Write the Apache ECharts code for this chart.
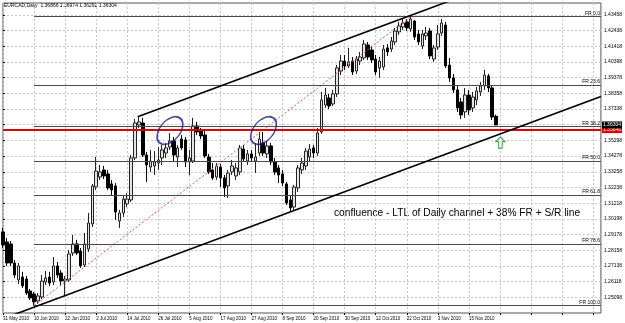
<!DOCTYPE html>
<html>
<head>
<meta charset="utf-8">
<title>EURCAD,Daily</title>
<style>
  html, body { margin: 0; padding: 0; background: #fff; }
  #chart { width: 625px; height: 323px; }
</style>
<script src="https://cdn.jsdelivr.net/npm/echarts@6.0.0/dist/echarts.min.js"></script>
</head>
<body>
<div id="chart"></div>
<script>
// daily bars, 31 May 2010 .. 25 Nov 2010
var opens = [
  1.2935,1.2870,1.2857,1.2733,1.2623,1.2642,1.2629,1.2551,1.2532,1.2486,
  1.2512,1.2610,1.2642,1.2610,1.2714,1.2668,1.2616,1.2623,1.2798,1.2857,
  1.2811,1.2720,1.2824,1.2987,1.3227,1.3292,1.3338,1.3312,1.3247,1.3234,
  1.3006,1.3058,1.3117,1.3143,1.3416,1.3630,1.3643,1.3435,1.3357,1.3364,
  1.3383,1.3416,1.3448,1.3487,1.3526,1.3422,1.3539,1.3533,1.3390,1.3396,
  1.3624,1.3591,1.3565,1.3422,1.3338,1.3292,1.3357,1.3286,1.3234,1.3325,
  1.3299,1.3325,1.3474,1.3396,1.3442,1.3396,1.3448,1.3513,1.3442,1.3494,
  1.3390,1.3351,1.3312,1.3247,1.3143,1.3097,1.3221,1.3338,1.3364,1.3422,
  1.3481,1.3448,1.3585,1.3760,1.3806,1.3767,1.3832,1.3981,1.4046,1.4014,
  1.4046,1.3981,1.4046,1.4066,1.4150,1.4118,1.4059,1.4001,1.4007,1.4131,
  1.4124,1.4170,1.4235,1.4267,1.4300,1.4254,1.4306,1.4222,1.4144,1.4209,
  1.4241,1.4059,1.4137,1.4228,1.4280,1.4020,1.3936,1.3858,1.3780,1.3715,
  1.3825,1.3741,1.3793,1.3845,1.3884,1.3949,1.3871,1.36866
];
var closes = [
  1.2850,1.2733,1.2733,1.2655,1.2714,1.2584,1.2538,1.2506,1.2480,1.2519,
  1.2616,1.2636,1.2603,1.2714,1.2655,1.2616,1.2629,1.2792,1.2857,1.2798,
  1.2714,1.2857,1.2993,1.3234,1.3331,1.3325,1.3299,1.3221,1.3208,1.3065,
  1.3058,1.3149,1.3149,1.3416,1.3643,1.3650,1.3435,1.3370,1.3396,1.3390,
  1.3403,1.3468,1.3481,1.3526,1.3435,1.3481,1.3481,1.3390,1.3416,1.3624,
  1.3585,1.3559,1.3429,1.3325,1.3286,1.3364,1.3286,1.3221,1.3318,1.3364,
  1.3351,1.3481,1.3409,1.3442,1.3416,1.3422,1.3539,1.3448,1.3494,1.3390,
  1.3325,1.3305,1.3253,1.3123,1.3091,1.3227,1.3351,1.3383,1.3461,1.3474,
  1.3448,1.3578,1.3793,1.3825,1.3754,1.3832,1.4001,1.4046,1.4014,1.4040,
  1.3975,1.4059,1.4072,1.4157,1.4072,1.4053,1.3975,1.4046,1.4124,1.4105,
  1.4176,1.4241,1.4274,1.4293,1.4261,1.4319,1.4202,1.4170,1.4222,1.4228,
  1.4079,1.4131,1.4222,1.4293,1.4014,1.3936,1.3858,1.3741,1.3695,1.3825,
  1.3728,1.3812,1.3851,1.3884,1.3955,1.3871,1.3682,1.36304
];
var lows = [
  1.2831,1.2714,1.2714,1.2636,1.2597,1.2571,1.2525,1.2493,1.2456,1.2467,
  1.2499,1.2590,1.2584,1.2590,1.2636,1.2590,1.2525,1.2610,1.2779,1.2785,
  1.2701,1.2707,1.2805,1.2967,1.3208,1.3273,1.3279,1.3208,1.3175,1.3013,
  1.2961,1.3032,1.3097,1.3130,1.3403,1.3611,1.3422,1.3260,1.3325,1.3305,
  1.3338,1.3370,1.3416,1.3468,1.3390,1.3357,1.3468,1.3357,1.3305,1.3383,
  1.3565,1.3539,1.3416,1.3312,1.3273,1.3273,1.3227,1.3162,1.3156,1.3305,
  1.3273,1.3305,1.3390,1.3370,1.3390,1.3318,1.3429,1.3429,1.3416,1.3370,
  1.3305,1.3253,1.3234,1.3110,1.3065,1.3071,1.3195,1.3312,1.3338,1.3396,
  1.3416,1.3429,1.3572,1.3741,1.3734,1.3754,1.3812,1.3955,1.3988,1.4001,
  1.3955,1.3962,1.4020,1.4053,1.4053,1.4033,1.3955,1.3936,1.3988,1.4079,
  1.4105,1.4150,1.4215,1.4248,1.4241,1.4235,1.4183,1.4150,1.4124,1.4183,
  1.4059,1.4040,1.4118,1.4209,1.4001,1.3910,1.3838,1.3715,1.3669,1.3676,
  1.3695,1.3715,1.3760,1.3819,1.3858,1.3845,1.3663,1.36292
];
var highs = [
  1.2961,1.2896,1.2876,1.2753,1.2733,1.2675,1.2649,1.2564,1.2545,1.2538,
  1.2655,1.2681,1.2675,1.2772,1.2740,1.2688,1.2649,1.2818,1.2915,1.2883,
  1.2831,1.2928,1.3058,1.3247,1.3422,1.3370,1.3364,1.3338,1.3273,1.3253,
  1.3078,1.3175,1.3188,1.3435,1.3669,1.3689,1.3676,1.3455,1.3468,1.3461,
  1.3487,1.3500,1.3513,1.3578,1.3552,1.3500,1.3565,1.3552,1.3468,1.3676,
  1.3650,1.3611,1.3598,1.3442,1.3383,1.3383,1.3377,1.3305,1.3338,1.3403,
  1.3383,1.3500,1.3500,1.3468,1.3468,1.3513,1.3585,1.3585,1.3526,1.3513,
  1.3416,1.3370,1.3338,1.3260,1.3175,1.3240,1.3370,1.3416,1.3481,1.3507,
  1.3500,1.3611,1.3845,1.3871,1.3832,1.3858,1.4020,1.4085,1.4085,1.4131,
  1.4072,1.4079,1.4105,1.4183,1.4170,1.4144,1.4085,1.4072,1.4150,1.4157,
  1.4202,1.4261,1.4300,1.4319,1.4319,1.4334,1.4313,1.4248,1.4248,1.4267,
  1.4261,1.4150,1.4280,1.4319,1.4300,1.4066,1.3962,1.3884,1.3806,1.3871,
  1.3858,1.3845,1.3877,1.3910,1.3988,1.3962,1.3890,1.36974
];

// bottom labels, one every 8 bars
var dateLabels = [
  '31 May 2010','10 Jun 2010','22 Jun 2010','2 Jul 2010','14 Jul 2010','26 Jul 2010',
  '5 Aug 2010','17 Aug 2010','27 Aug 2010','8 Sep 2010','20 Sep 2010','30 Sep 2010',
  '12 Oct 2010','22 Oct 2010','3 Nov 2010','15 Nov 2010'
];
// price scale on the right
var priceTicks = [
  1.24078,1.25098,1.26118,1.27138,1.28158,1.29178,1.30198,1.31218,1.32238,1.33258,
  1.34278,1.35298,1.36318,1.37338,1.38358,1.39378,1.40398,1.41418,1.42438,1.43458
];

// fibo retracement (low 10 Jun -> high 20 Oct)
var fibNames = ['FR 0.0','FR 23.6','FR 38.2','FR 50.0','FR 61.8','FR 78.6','FR 100.0'];
var fibPrices = [1.43340,1.38900,1.36190,1.33960,1.31750,1.28565,1.24555];
var fibTrend = [[8, 1.24555], [105, 1.43340]];

// channel lines: [bar index, price]
var channelLower = [[0, 1.2371], [154, 1.3815]];
var channelUpper = [[34.7, 1.3684], [120, 1.4483]];

var srLevel = 1.35846;
var lastPrice = 1.36304;
var circles = [[43.0, 1.3594], [67.1, 1.3594]];
var arrowAt = [[128.1, 1.3516]];

(function() {
  var myChart = echarts.init(document.getElementById('chart'));
  var slots = 155;
  var cats = [];
  for (var i = 0; i < slots; i++) cats.push(i);

  var candles = opens.map(function(o, i) {
    return [o, closes[i], lows[i], highs[i]];
  });

  var gridTicks = [];
  for (var k = 0; k < slots; k += 8) gridTicks.push(k);
  var labelTicks = dateLabels.map(function(d, k) { return k * 8; });
  var priceLabels = priceTicks.filter(function(p) { return Math.abs(p - lastPrice) > 0.002; });

  var dotted = { color: '#c6c6d6', width: 1, type: [2, 2] };
  var tiny = 'Liberation Sans';

  var option = {
    animation: false,
    backgroundColor: '#fff',
    grid: {
      left: 3, right: 22, top: 3, bottom: 10,
      show: true, borderColor: '#555', borderWidth: 1, backgroundColor: '#fff'
    },
    xAxis: [{
      type: 'category',
      data: cats,
      boundaryGap: false,
      position: 'top',
      show: false
    }, {
      type: 'value',
      min: 0, max: slots - 1,
      position: 'bottom',
      axisLine: { show: false },
      axisTick: { show: true, length: 2, customValues: gridTicks, lineStyle: { color: '#000' } },
      splitLine: { show: true, lineStyle: dotted },
      axisLabel: {
        customValues: labelTicks,
        fontSize: 4.5, fontFamily: tiny, color: '#000', align: 'left', margin: 3,
        formatter: function(v) { return dateLabels[Math.round(v / 8)] || ''; }
      }
    }],
    yAxis: {
      type: 'value',
      position: 'right',
      min: 1.2408, max: 1.4423,
      axisLine: { show: false },
      axisTick: { show: true, length: 2, customValues: priceTicks, lineStyle: { color: '#000' } },
      splitLine: { show: true, lineStyle: dotted },
      axisLabel: {
        customValues: priceLabels,
        fontSize: 5, fontFamily: tiny, color: '#000', margin: 3,
        formatter: function(v) { return v.toFixed(5); }
      }
    },
    series: [{
      name: 'EURCAD',
      type: 'candlestick',
      xAxisIndex: 0,
      data: candles,
      barWidth: 3,
      clip: true,
      z: 3,
      itemStyle: {
        color: '#e4e4e4', color0: '#000',
        borderColor: '#222', borderColor0: '#000', borderWidth: 1
      },
      markLine: {
        symbol: 'none', silent: true, animation: false,
        data: [{
          yAxis: srLevel,
          lineStyle: { color: '#e00000', width: 2, type: 'solid' },
          label: {
            position: 'end', distance: 1, fontSize: 5, fontFamily: tiny, color: '#fff',
            backgroundColor: '#e00000', padding: [1, 1],
            formatter: function() { return srLevel.toFixed(5); }
          }
        }]
      }
    }, {
      // bid price tag on the right scale
      name: 'bid',
      type: 'line',
      xAxisIndex: 1,
      data: [[0, lastPrice], [slots - 1, lastPrice]],
      symbol: 'none',
      z: 6,
      lineStyle: { width: 0, color: 'rgba(0,0,0,0)' },
      endLabel: {
        show: true, distance: 1, fontSize: 5, fontFamily: tiny, color: '#fff',
        backgroundColor: '#000', padding: [1, 1],
        formatter: function() { return lastPrice.toFixed(5); }
      }
    }, {
      name: 'fibo',
      type: 'line',
      xAxisIndex: 1,
      data: fibTrend,
      symbol: 'none',
      z: 4,
      lineStyle: { color: '#f05050', width: 1, type: [2, 2] },
      markLine: {
        symbol: 'none', silent: true, animation: false,
        lineStyle: { color: '#4a4a4a', width: 1.2, type: 'solid' },
        label: {
          position: 'insideEndTop', distance: 1, fontSize: 5, fontFamily: tiny, color: '#000',
          formatter: '{b}'
        },
        data: fibPrices.map(function(p, k) {
          return [{ coord: [8, p], name: fibNames[k] }, { coord: [slots - 1, p] }];
        })
      }
    }, {
      name: 'lower',
      type: 'line',
      xAxisIndex: 1,
      data: channelLower,
      symbol: 'none',
      z: 5,
      lineStyle: { color: '#000', width: 1.6 }
    }, {
      name: 'upper',
      type: 'line',
      xAxisIndex: 1,
      data: channelUpper,
      symbol: 'none',
      z: 5,
      lineStyle: { color: '#000', width: 1.6 }
    }, {
      name: 'circles',
      type: 'scatter',
      xAxisIndex: 1,
      data: circles,
      symbol: 'circle',
      symbolSize: [32, 20],
      symbolRotate: 50,
      z: 6,
      itemStyle: { color: 'rgba(0,0,0,0)', borderColor: '#1b1b86', borderWidth: 1.6 }
    }, {
      name: 'arrow',
      type: 'scatter',
      xAxisIndex: 1,
      data: arrowAt,
      symbol: 'path://M5,0 L10,5 L7,5 L7,12 L3,12 L3,5 L0,5 Z',
      symbolSize: [9, 11],
      z: 6,
      itemStyle: { color: '#fff', borderColor: '#2a922a', borderWidth: 1.2 }
    }],
    graphic: [{
      type: 'text',
      left: 4, top: 3,
      style: {
        text: 'EURCAD,Daily  1.36866 1.36974 1.36292 1.36304',
        font: '5px "Liberation Sans"', fill: '#000'
      }
    }, {
      type: 'text',
      left: 334, top: 208,
      style: {
        text: 'confluence - LTL of Daily channel + 38% FR + S/R line',
        font: '10.2px "Liberation Sans"', fill: '#000'
      }
    }]
  };

  myChart.setOption(option);
  window.addEventListener('resize', function() {
    myChart.resize();
  });
})();
</script>
</body>
</html>
